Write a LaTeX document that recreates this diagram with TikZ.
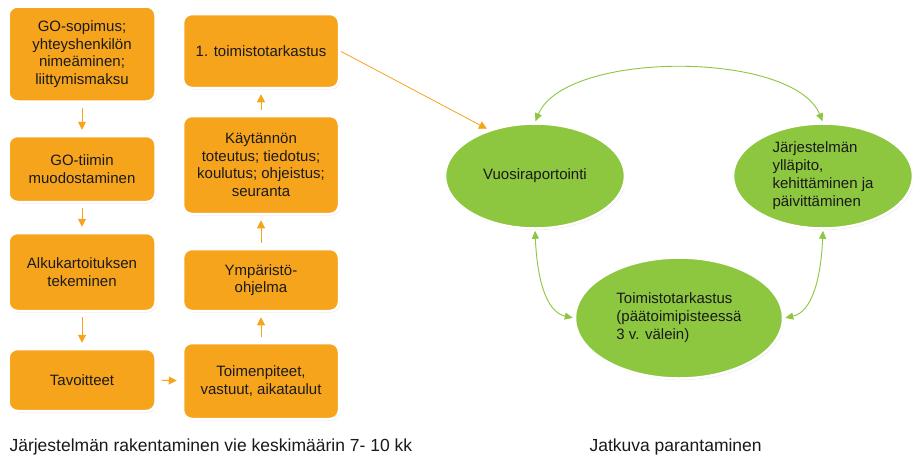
\documentclass[tikz,border=0pt]{standalone}
\usepackage{fontspec}
\setmainfont{Liberation Sans}
\usetikzlibrary{arrows.meta, shapes.geometric, shadows}
\definecolor{corange}{HTML}{F7A41D}
\definecolor{cgreen}{HTML}{8DC63F}
\definecolor{ctext}{HTML}{1A1A1A}
\tikzset{
  box/.style={rectangle, rounded corners=9pt, fill=corange, draw=white,
              line width=2.5pt, align=center, text=ctext, inner sep=2pt,
              font=\fontsize{15}{17.5}\selectfont,
              drop shadow={opacity=0.2, shadow xshift=1pt, shadow yshift=-1.5pt}},
  oval/.style={ellipse, fill=cgreen, draw=white, line width=2.5pt, text=ctext,
               inner sep=0pt, font=\fontsize{15}{18}\selectfont,
               drop shadow={opacity=0.2, shadow xshift=1pt, shadow yshift=-1.5pt}},
  fl/.style={-{Triangle[length=8pt, width=8pt]}, corange, line width=1pt,
             shorten <=5pt, shorten >=5pt},
  cyc/.style={{Triangle[length=8pt, width=7pt]}-{Triangle[length=8pt, width=7pt]},
              cgreen, line width=0.9pt, shorten <=1pt, shorten >=1pt},
  captxt/.style={anchor=west, text=ctext, font=\fontsize{17.5}{20}\selectfont},
}
\begin{document}
\begin{tikzpicture}[x=1pt, y=-1pt]
  \useasboundingbox[fill=white] (0,0) rectangle (924,459);
  % rakentaminen, vasen sarake
  \node[box, minimum width=147pt, minimum height=95pt] (sopimus) at (82,54)
    {GO-sopimus;\\yhteyshenkilön\\nimeäminen;\\liittymismaksu};
  \node[box, minimum width=147pt, minimum height=66pt] (tiimi) at (82,169)
    {GO-tiimin\\muodostaminen};
  \node[box, minimum width=147pt, minimum height=78pt] (kartoitus) at (82,272)
    {Alkukartoituksen\\tekeminen};
  \node[box, minimum width=147pt, minimum height=62pt] (tavoitteet) at (82,380)
    {Tavoitteet};
  % oikea sarake
  \node[box, minimum width=156pt, minimum height=74pt] (tarkastus1) at (261,51)
    {1. toimistotarkastus};
  \node[box, minimum width=156pt, minimum height=98pt] (kaytanto) at (261,165)
    {Käytännön\\toteutus; tiedotus;\\koulutus; ohjeistus;\\seuranta};
  \node[box, minimum width=156pt, minimum height=62pt] (ohjelma) at (261,280)
    {Ympäristö-\\ohjelma};
  \node[box, minimum width=156pt, minimum height=76pt] (toimet) at (261,381)
    {Toimenpiteet,\\vastuut, aikataulut};
  % jatkuva parantaminen
  \node[oval, minimum width=180pt, minimum height=105pt] (vuosi) at (535,176)
    {Vuosiraportointi};
  \node[oval, minimum width=180pt, minimum height=105pt, align=left] (yllapito) at (823,176)
    {Järjestelmän\\ylläpito,\\kehittäminen ja\\päivittäminen};
  \node[oval, minimum width=208pt, minimum height=121pt, align=left] (tarkastus) at (679,318)
    {Toimistotarkastus\\(päätoimipisteessä\\3 v. välein)};
  \draw[fl] (sopimus) -- (tiimi);
  \draw[fl] (tiimi) -- (kartoitus);
  \draw[fl] (kartoitus) -- (tavoitteet);
  \draw[fl] (tavoitteet) -- (toimet);
  \draw[fl] (toimet) -- (ohjelma);
  \draw[fl] (ohjelma) -- (kaytanto);
  \draw[fl] (kaytanto) -- (tarkastus1);
  \draw[fl, shorten <=1pt, shorten >=2pt, line width=0.8pt] (tarkastus1.east) -- (vuosi.135);
  \draw[cyc] (vuosi.north) .. controls +(30,-72) and +(-30,-72) .. (yllapito.north);
  \draw[cyc] (vuosi.south) .. controls +(2,48) and +(-28,-6) .. (tarkastus.west);
  \draw[cyc] (yllapito.south) .. controls +(-2,48) and +(28,-6) .. (tarkastus.east);
  \node[captxt] (rakentaminen) at (6,447) {Järjestelmän rakentaminen vie keskimäärin 7- 10 kk};
  \node[captxt] (jatkuva) at (586,447) {Jatkuva parantaminen};
\end{tikzpicture}
\end{document}
